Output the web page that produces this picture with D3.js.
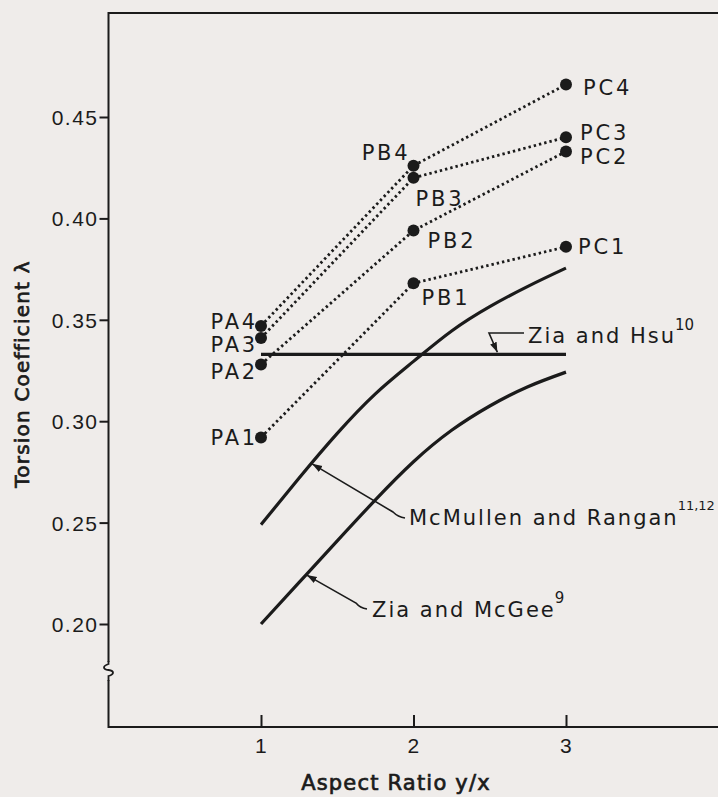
<!DOCTYPE html>
<html>
<head>
<meta charset="utf-8">
<script src="https://cdn.jsdelivr.net/npm/d3@7"></script>
<style>
  html, body { margin:0; padding:0; background:#efecea; }
  svg { display:block; font-family:"DejaVu Sans", sans-serif; }
  .lbl { font-size:21px; fill:#1b1b1b; letter-spacing:1.5px; }
  .pt  { font-size:21px; fill:#1b1b1b; letter-spacing:2.8px; }
  .note { font-size:21px; fill:#1b1b1b; letter-spacing:2px; }
  .ttl { font-size:20px; fill:#1b1b1b; stroke:#1b1b1b; stroke-width:0.7px; letter-spacing:1.2px; }
</style>
</head>
<body>
<svg id="chart" width="718" height="797"></svg>
<script>
// --- data ---
const aspectRatios = [1, 2, 3];
const specimenNames = ['1', '2', '3', '4'];
const seriesPA = [0.292, 0.328, 0.341, 0.347];   // ratio 1
const seriesPB = [0.368, 0.394, 0.420, 0.426];   // ratio 2
const seriesPC = [0.386, 0.433, 0.440, 0.466];   // ratio 3

const curveRatios = [1, 1.25, 1.5, 1.75, 2, 2.25, 2.5, 2.75, 3];
const mcmullenRangan = [0.249, 0.272, 0.294, 0.3135, 0.3295, 0.3445, 0.3565, 0.3665, 0.3755];
const ziaMcGee = [0.200, 0.2205, 0.2410, 0.2612, 0.2800, 0.2955, 0.3075, 0.3170, 0.3242];
const ziaHsuRatios = [1, 3];
const ziaHsu = [0.333, 0.333];

const yTicks = [0.20, 0.25, 0.30, 0.35, 0.40, 0.45];
const xTicks = [1, 2, 3];

// label offsets (layout only): [anchor, dx, dy] per series, per specimen
const offsA = [['end',-3,8], ['end',-3,15], ['end',-3,14], ['end',-3,3]];
const offsB = [['start',8,22], ['start',14,17], ['start',2,28], ['end',-3,-6]];
const offsC = [['start',12,7], ['start',14,13], ['start',14,3], ['start',17,10]];

const svg = d3.select('#chart');
const ink = '#1b1b1b';

const x = d3.scaleLinear().domain([0, 4]).range([108.5, 718.5]);
const y = d3.scaleLinear().domain([0.20, 0.45]).range([624, 117]);
const frameTop = 13, frameBottom = 727;

// frame
svg.append('path')
    .attr('d', `M${x(4)},${frameTop}H${x(0)}V${frameBottom}H${x(4)}`)
    .attr('fill', 'none').attr('stroke', ink).attr('stroke-width', 2);

// axis break on the y axis
svg.append('rect').attr('x', x(0) - 2).attr('y', 662).attr('width', 4).attr('height', 18)
    .attr('fill', '#efecea');
svg.append('path')
    .attr('d', `M${x(0)},661 v3 c-6,2 -6,5 0,6 c6,1 6,4 0,6 v5`)
    .attr('fill', 'none').attr('stroke', ink).attr('stroke-width', 1.8);

// y axis
const gy = svg.append('g')
    .attr('transform', `translate(${x(0)},0)`)
    .call(d3.axisLeft(y).tickValues(yTicks).tickFormat(d3.format('.2f')).tickSize(9).tickPadding(1));
gy.select('.domain').remove();
gy.selectAll('line').attr('stroke', ink).attr('stroke-width', 2);
gy.selectAll('text').attr('class', 'lbl').attr('font-family', null).attr('font-size', null)
    .attr('dy', '0.36em').attr('fill', ink);

// x axis (ticks inward)
const gx = svg.append('g')
    .attr('transform', `translate(0,${frameBottom})`)
    .call(d3.axisBottom(x).tickValues(xTicks).tickFormat(d3.format('d')).tickSize(-12).tickPadding(11));
gx.select('.domain').remove();
gx.selectAll('line').attr('stroke', ink).attr('stroke-width', 2);
gx.selectAll('text').attr('class', 'lbl').attr('font-family', null).attr('font-size', null).attr('fill', ink);

// axis titles
svg.append('text').attr('class', 'ttl')
    .attr('transform', 'translate(29,374) rotate(-90)')
    .attr('text-anchor', 'middle')
    .text('Torsion Coefficient λ');
svg.append('text').attr('class', 'ttl')
    .attr('x', 396).attr('y', 790).attr('text-anchor', 'middle')
    .style('font-size', '21px')
    .text('Aspect Ratio y/x');

// theory curves
const curveLine = d3.line().x(d => x(d[0])).y(d => y(d[1])).curve(d3.curveNatural);
[[curveRatios, mcmullenRangan], [curveRatios, ziaMcGee], [ziaHsuRatios, ziaHsu]].forEach(([rs, vs]) => {
    svg.append('path')
        .datum(d3.zip(rs, vs))
        .attr('d', curveLine)
        .attr('fill', 'none').attr('stroke', ink).attr('stroke-width', 3.2);
});

// specimen series: PAi -> PBi -> PCi
const specimens = specimenNames.map((n, i) => ({
    name: n,
    pts: [
        {x: aspectRatios[0], v: seriesPA[i], label: 'PA' + n, off: offsA[i]},
        {x: aspectRatios[1], v: seriesPB[i], label: 'PB' + n, off: offsB[i]},
        {x: aspectRatios[2], v: seriesPC[i], label: 'PC' + n, off: offsC[i]}
    ]
}));

const dotLine = d3.line().x(d => x(d.x)).y(d => y(d.v));
svg.append('g').selectAll('path')
    .data(specimens).join('path')
    .attr('d', d => dotLine(d.pts))
    .attr('fill', 'none').attr('stroke', ink)
    .attr('stroke-width', 2.8).attr('stroke-dasharray', '2.4,3');

const allPts = specimens.flatMap(s => s.pts);
svg.append('g').selectAll('circle')
    .data(allPts).join('circle')
    .attr('cx', d => x(d.x)).attr('cy', d => y(d.v)).attr('r', 6)
    .attr('fill', ink);

svg.append('g').selectAll('text')
    .data(allPts).join('text')
    .attr('class', 'pt')
    .attr('x', d => x(d.x) + d.off[1]).attr('y', d => y(d.v) + d.off[2])
    .attr('text-anchor', d => d.off[0])
    .text(d => d.label);

// leaders with arrowheads
svg.append('defs').append('marker')
    .attr('id', 'arr').attr('viewBox', '0 0 10 10').attr('refX', 10).attr('refY', 5)
    .attr('markerWidth', 10).attr('markerHeight', 10).attr('markerUnits', 'userSpaceOnUse')
    .attr('orient', 'auto')
    .append('path').attr('d', 'M0,1.5L10,5L0,8.5z').attr('fill', ink);

const interp = (rs, vs, r) => d3.scaleLinear().domain(rs).range(vs)(r);

function leader(path) {
    svg.append('path').attr('d', path)
        .attr('fill', 'none').attr('stroke', ink).attr('stroke-width', 1.6)
        .attr('marker-end', 'url(#arr)');
}
function note(tx, ty, main, sup, supDy, supSize) {
    const t = svg.append('text').attr('class', 'note').attr('x', tx).attr('y', ty);
    t.append('tspan').text(main);
    t.append('tspan').attr('dy', supDy).attr('dx', -1)
        .style('font-size', supSize + 'px').style('letter-spacing', '0px').text(sup);
}

// Zia and Hsu
const hsuTip = [x(2.55), y(ziaHsu[0]) - 2];
leader(`M524,333H489L${hsuTip[0]},${hsuTip[1]}`);
note(528, 343, 'Zia and Hsu', '10', -13, 15);

// McMullen and Rangan
const mrTip = [x(1.335), y(interp(curveRatios, mcmullenRangan, 1.335)) + 1];
leader(`M405,518Q398,517 393,512L${mrTip[0]},${mrTip[1]}`);
note(409, 525, 'McMullen and Rangan', '11,12', -15, 13);

// Zia and McGee
const zmTip = [x(1.30), y(interp(curveRatios, ziaMcGee, 1.30)) + 1];
leader(`M367,609Q360,608 356,603L${zmTip[0]},${zmTip[1]}`);
note(372, 617, 'Zia and McGee', '9', -14, 15);
</script>
</body>
</html>
